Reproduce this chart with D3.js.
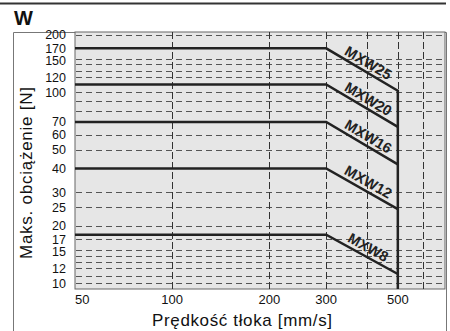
<!DOCTYPE html>
<html><head><meta charset="utf-8">
<script src="https://cdn.jsdelivr.net/npm/d3@7"></script>
<style>body{margin:0;background:#fff}svg{display:block;font-family:"Liberation Sans",Arial,sans-serif}</style>
</head><body><svg id="c" width="450" height="331"></svg>
<script>
const series = ["MXW25","MXW20","MXW16","MXW12","MXW8"];
const kneeSpeed = 300, maxSpeed = 500, minSpeed = 50;
const flatLoad = [170, 110, 70, 40, 18];
const endLoad = [102, 66, 42, 24.5, 11.2];
const yTicks = [10,12,15,17,20,25,30,40,50,60,70,100,120,150,170,200];
const yGrid = [10,11,12,13,14,15,17,20,25,30,50,60,80,90,100,120,130,140,150,200];
const xTicks = [50,100,200,300,500];
const xGrid = [100,200,300,400,500,600];

const svg = d3.select("#c");
const L = 75, R = 445, T = 32, B = 289;
const x = d3.scaleLog().domain([50,700]).range([L,R]);
const y = d3.scaleLog().domain([9.35,207]).range([B,T]);

// top rule and title
svg.append("line").attr("x1",0).attr("x2",446).attr("y1",3.5).attr("y2",3.5).attr("stroke","#333").attr("stroke-width",2);
svg.append("text").attr("x",14).attr("y",25).attr("font-size",20).attr("font-weight","bold").attr("fill","#111").text("W");
// outer frame
svg.append("path").attr("d",`M13.5,331 V32.5 H446.5 V331`).attr("fill","none").attr("stroke","#777").attr("stroke-width",1);

// plot background
svg.append("rect").attr("x",L).attr("y",T).attr("width",R-L).attr("height",B-T).attr("fill","#e6e6e6").attr("stroke","#666").attr("stroke-width",1);

// grid
const g = svg.append("g");
g.selectAll(".hg").data(yGrid).join("line")
 .attr("x1",L+1).attr("x2",R).attr("y1",d=>Math.round(y(d))+0.5).attr("y2",d=>Math.round(y(d))+0.5)
 .attr("stroke","#555").attr("stroke-width",1).attr("stroke-dasharray","6,4");
g.selectAll(".vg").data(xGrid).join("line")
 .attr("x1",d=>Math.round(x(d))+0.5).attr("x2",d=>Math.round(x(d))+0.5).attr("y1",T).attr("y2",B)
 .attr("stroke","#333").attr("stroke-width",1).attr("stroke-dasharray","7,3");

// data lines
const line = d3.line().x(d=>x(d[0])).y(d=>y(d[1]));
series.forEach((s,i)=>{
  const pts = [[minSpeed,flatLoad[i]],[kneeSpeed,flatLoad[i]],[maxSpeed,endLoad[i]]];
  svg.append("path").attr("d",line(pts)).attr("fill","none").attr("stroke","#222").attr("stroke-width",2.5);
  const x1 = x(kneeSpeed), y1 = y(flatLoad[i]), x2 = x(maxSpeed), y2 = y(endLoad[i]);
  const ang = Math.atan2(y2-y1, x2-x1)*180/Math.PI;
  svg.append("text").attr("transform",`translate(${(x1+x2)/2},${(y1+y2)/2}) rotate(${ang})`)
    .attr("x",2).attr("y",-4).attr("text-anchor","middle").attr("font-size",14.5).attr("font-weight","bold").attr("fill","#222").text(s);
});
// vertical limit at max speed
svg.append("line").attr("x1",x(maxSpeed)).attr("x2",x(maxSpeed)).attr("y1",y(d3.max(endLoad))-1).attr("y2",B)
  .attr("stroke","#222").attr("stroke-width",2.5);

// y tick labels, pushed apart so they do not collide
const ypos = yTicks.map(v=>({v, p:y(v)})).sort((a,b)=>a.p-b.p);
for (let k=1;k<ypos.length;k++) if (ypos[k].p-ypos[k-1].p<12.5) ypos[k].p = ypos[k-1].p+12.5;
svg.selectAll(".yt").data(ypos).join("text")
 .attr("x",66).attr("y",d=>d.p).attr("dy","0.36em").attr("text-anchor","end").attr("font-size",12.5).attr("fill","#111").text(d=>d.v);
// x tick labels
svg.selectAll(".xt").data(xTicks).join("text")
 .attr("x",d=>x(d)).attr("y",304).attr("text-anchor",d=>d===50?"start":"middle").attr("font-size",13).attr("fill","#111").text(d=>d);

// axis titles
svg.append("text").attr("transform",`translate(32,173) rotate(-90)`).attr("text-anchor","middle").attr("font-size",17)
  .attr("textLength",172).attr("lengthAdjust","spacing").attr("fill","#111").text("Maks. obciążenie [N]");
svg.append("text").attr("x",242).attr("y",326).attr("text-anchor","middle").attr("font-size",17)
  .attr("textLength",180).attr("lengthAdjust","spacing").attr("fill","#111").text("Prędkość tłoka [mm/s]");
</script></body></html>
